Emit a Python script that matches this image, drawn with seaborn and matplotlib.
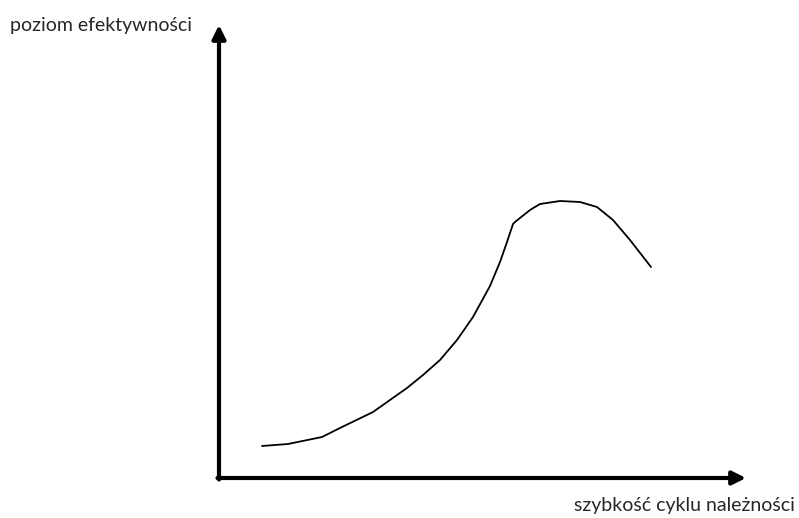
import matplotlib
matplotlib.use("Agg")
import matplotlib.pyplot as plt
import seaborn as sns
import pandas as pd

# wartości (początek układu = przecięcie osi)
szybkosc = [43, 69, 103, 121, 154, 188, 204, 221, 238, 254, 271, 281,
            288, 294, 296, 301, 311, 321, 341, 361, 378, 394, 411, 432]
efektywnosc = [32, 34, 41, 50, 66, 90, 103, 118, 138, 161, 192, 216,
               236, 254, 256, 260, 268, 274, 277, 276, 271, 258, 238, 211]

os_x_koniec = 527
os_y_koniec = 453
etykieta_x = "szybkość cyklu należności"
etykieta_y = "poziom efektywności"

df = pd.DataFrame({"x": szybkosc, "y": efektywnosc})

sns.set_style("white")
plt.rcParams["font.family"] = ["Lato", "DejaVu Sans"]

fig = plt.figure(figsize=(7.99, 5.18), dpi=100)
ax = fig.add_axes([0, 0, 1, 1])
ax.set_xlim(-219, 799 - 219)
ax.set_ylim(478 - 518, 478)
ax.axis("off")

sns.lineplot(data=df, x="x", y="y", sort=False, color="black", lw=1.3, ax=ax)

strzalka = dict(arrowstyle="-|>,head_width=0.4,head_length=0.8", lw=3,
                color="black", shrinkA=0, shrinkB=0)
ax.annotate("", xy=(0, os_y_koniec), xytext=(0, -1.5), arrowprops=strzalka)
ax.annotate("", xy=(os_x_koniec, 0), xytext=(-1.5, 0), arrowprops=strzalka)

ax.text(-209, 453, etykieta_y, fontsize=14, ha="left", va="center")
ax.text(576, -28, etykieta_x, fontsize=14, ha="right", va="center")

fig.savefig("out.png", dpi=100)
